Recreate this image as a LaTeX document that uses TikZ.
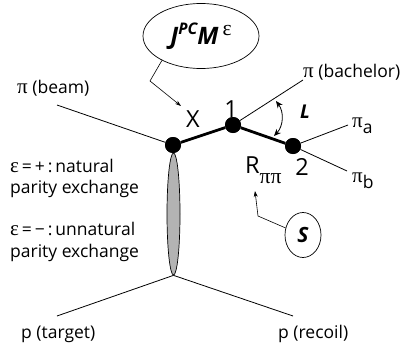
\documentclass[tikz,border=0pt]{standalone}
\usepackage{fontspec}
\setmainfont{Open Sans}
\newfontfamily\grk[Scale=1.2]{Liberation Serif}
\usetikzlibrary{shapes.geometric, arrows.meta, positioning, calc}
\definecolor{blobGray}{HTML}{B3B3B3}
\tikzset{
  vtx/.style={circle, fill=black, inner sep=0pt, minimum size=16pt},
  blob/.style={ellipse, draw, line width=0.7pt, fill=blobGray, inner sep=0pt,
               minimum width=13pt, minimum height=122pt},
  bubble/.style={ellipse, draw, line width=0.7pt, inner sep=0pt},
  leg/.style={line width=0.8pt},
  prop/.style={line width=2.8pt},
  lbl/.style={font=\fontsize{17.5}{17.5}\selectfont, inner sep=0pt},
  biglbl/.style={font=\fontsize{23.5}{23.5}\selectfont, inner sep=0pt},
  pointer/.style={line width=0.6pt, -{Stealth[length=6pt,width=4pt]}},
  angarr/.style={line width=0.8pt, {Stealth[length=7pt,width=6pt]}-{Stealth[length=7pt,width=6pt]}},
}
\newcommand{\gpi}{{\grk π}}
\newcommand{\geps}{{\grk ε}}

\begin{document}
\begin{tikzpicture}[x=1pt, y=-1pt]
\useasboundingbox (0,0) rectangle (404,348);

% exchange and vertices
\node[blob] (ex) at (173.5,214) {};
\node[vtx] (A) at (173,145) {};
\node[vtx] (V1) at (233,125) {};
\node[vtx] (V2) at (293,146) {};

% free ends of the legs
\coordinate (beam) at (57,105);
\coordinate (bach) at (303,80);
\coordinate (pia) at (348,125);
\coordinate (pib) at (347,171);
\coordinate (targ) at (57,316);
\coordinate (reco) at (293,316);

\draw[leg] (beam) -- (A);
\draw[leg] (V1) -- (bach);
\draw[leg] (V2) -- (pia);
\draw[leg] (V2) -- (pib);
\draw[leg] (ex.south) -- (targ);
\draw[leg] (ex.south) -- (reco);
\draw[prop] (A) -- (V1) -- (V2);
\node[vtx] at (A) {};
\node[vtx] at (V1) {};
\node[vtx] at (V2) {};

% angle L
\coordinate (Lt) at (276,101);
\coordinate (Lb) at (274,136);
\draw[angarr] (Lt) to[bend left=40] (Lb);
\node[inner sep=0pt, font=\fontsize{19}{19}\selectfont\bfseries\itshape] (L) at (305,112) {L};

% labels
\node[lbl, anchor=base west] (tbeam) at (17,93) {\gpi{} (beam)};
\node[lbl, anchor=base west] (tbach) at (303,77) {\gpi{} (bachelor)};
\node[lbl, anchor=base west] (tpia) at (352,127) {\gpi\raisebox{-6pt}{a}};
\node[lbl, anchor=base west] (tpib) at (352,182) {\gpi\raisebox{-6pt}{b}};
\node[lbl, anchor=base west] (ttarg) at (21,338) {p (target)};
\node[lbl, anchor=base west] (treco) at (278,338) {p (recoil)};
\node[biglbl, anchor=base] (tX) at (193,127) {X};
\node[biglbl, anchor=base] (t1) at (231,117) {1};
\node[biglbl, anchor=base] (t2) at (302,175) {2};
\node[biglbl, anchor=base west] (tR) at (245,173) {R\raisebox{-10pt}{\fontsize{18}{18}\selectfont\gpi\gpi}};

\node[lbl, anchor=base west] (nat1) at (10,172) {\geps\,=\,+\,:\,natural};
\node[lbl, anchor=base west] (nat2) at (10,193) {parity exchange};
\node[lbl, anchor=base west] (unn1) at (10,235) {\geps\,=\,−\,:\,unnatural};
\node[lbl, anchor=base west] (unn2) at (10,257) {parity exchange};

% quantum numbers of X
\node[bubble, minimum width=116pt, minimum height=65pt] (jpc) at (201,36)
  {\fontsize{24}{24}\selectfont{\bfseries\itshape J\raisebox{10pt}{\fontsize{16}{16}\selectfont PC}M}\,\raisebox{9pt}{\fontsize{18}{18}\selectfont\geps}};
\coordinate (jbend) at (150,81);
\coordinate (jtip) at (181,106);
\draw[pointer] (jpc.212) -- (jbend) -- (jtip);

% spin of the isobar
\node[bubble, minimum width=36pt, minimum height=45pt, font=\fontsize{21}{21}\selectfont\bfseries\itshape] (S) at (303,235) {S};
\coordinate (sbend) at (258,216);
\coordinate (stip) at (255,191);
\draw[pointer] (S.158) -- (sbend) -- (stip);
\end{tikzpicture}
\end{document}
